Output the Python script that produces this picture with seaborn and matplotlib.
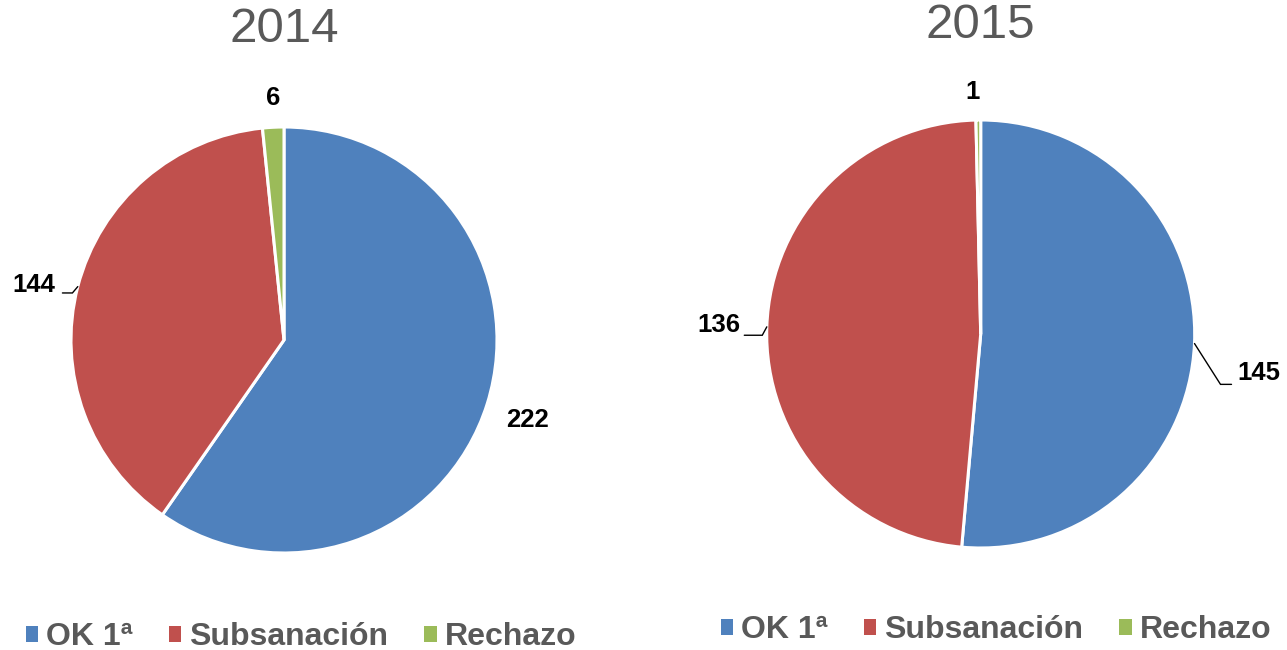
import numpy as np
import matplotlib
matplotlib.use("Agg")
import matplotlib.pyplot as plt
import seaborn as sns
from matplotlib.patches import Patch

# ---- data ----
categories = ["OK 1ª", "Subsanación", "Rechazo"]
years = ["2014", "2015"]
values_2014 = [222, 144, 6]
values_2015 = [145, 136, 1]

# ---- style ----
sns.set_theme(style="white")
plt.rcParams["font.family"] = ["Liberation Sans", "DejaVu Sans"]
colors = sns.color_palette(["#4F81BD", "#C0504D", "#9BBB59"])
text_gray = "#595959"

W, H = 1287, 650
fig = plt.figure(figsize=(W / 100, H / 100), dpi=100)
ax = fig.add_axes([0, 0, 1, 1])

# pie geometry in pixel units (y up)
pies = [
    dict(vals=values_2014, title=years[0], cx=284, cy=H - 340, r=213, title_y=H - 29,
         ldist=[256, 256, 242], lnudge=[-0.8, 2.1, -0.3],
         leader=[None, dict(side="right", gap_small=7, gap_big=17, base=-8), None],
         legend_xy=(301 / W, 1 - 637 / H)),
    dict(vals=values_2015, title=years[1], cx=980.7, cy=H - 334, r=214, title_y=H - 25,
         ldist=[281, 262, 242], lnudge=[-5.5, 0.0, 1.2],
         leader=[dict(side="left", gap_small=6, gap_big=17, base=-11),
                 dict(side="right", gap_small=4, gap_big=22, base=-10), None],
         legend_xy=(996 / W, 1 - 630 / H)),
]

label_fs = 18.5
legend_fs = 23
for p in pies:
    vals = p["vals"]
    wedges, _ = ax.pie(vals, colors=colors, startangle=90, counterclock=False,
                       center=(p["cx"], p["cy"]), radius=p["r"],
                       wedgeprops=dict(edgecolor="white", linewidth=2.2))
    ax.text(p["cx"], p["title_y"], p["title"], ha="center", va="center",
            fontsize=35.5, color=text_gray)
    for i, w in enumerate(wedges):
        mid = np.deg2rad((w.theta1 + w.theta2) / 2)
        ang = mid + np.deg2rad(p["lnudge"][i])
        lx = p["cx"] + p["ldist"][i] * np.cos(ang)
        ly = p["cy"] + p["ldist"][i] * np.sin(ang)
        ax.text(lx, ly, str(vals[i]), ha="center", va="center",
                fontsize=label_fs, fontweight="bold", color="black")
        ld = p["leader"][i]
        if ld is not None:
            ex = p["cx"] + p["r"] * np.cos(mid)
            ey = p["cy"] + p["r"] * np.sin(mid)
            half_w = 0.5 * 3 * 0.556 * label_fs * 100 / 72
            if ld["side"] == "right":
                edge = lx + half_w
                fx, bx = edge + ld["gap_small"], edge + ld["gap_big"]
            else:
                edge = lx - half_w
                fx, bx = edge - ld["gap_small"], edge - ld["gap_big"]
            by = ly + ld["base"]
            ax.plot([ex, bx, fx], [ey, by, by], color="black", lw=1.0,
                    solid_joinstyle="miter")

    handles = [Patch(facecolor=c, edgecolor="none") for c in colors]
    leg = fig.legend(handles, categories, loc="center", ncol=3,
                     bbox_to_anchor=p["legend_xy"], bbox_transform=fig.transFigure,
                     frameon=False,
                     prop=dict(weight="bold", size=legend_fs),
                     handlelength=0.39, handleheight=0.39, handletextpad=0.26,
                     columnspacing=1.12, borderpad=0, borderaxespad=0)
    for t in leg.get_texts():
        t.set_color(text_gray)

ax.set_xlim(0, W)
ax.set_ylim(0, H)
ax.set_aspect("equal", adjustable="box")
ax.axis("off")

fig.savefig("out.png", dpi=100)
